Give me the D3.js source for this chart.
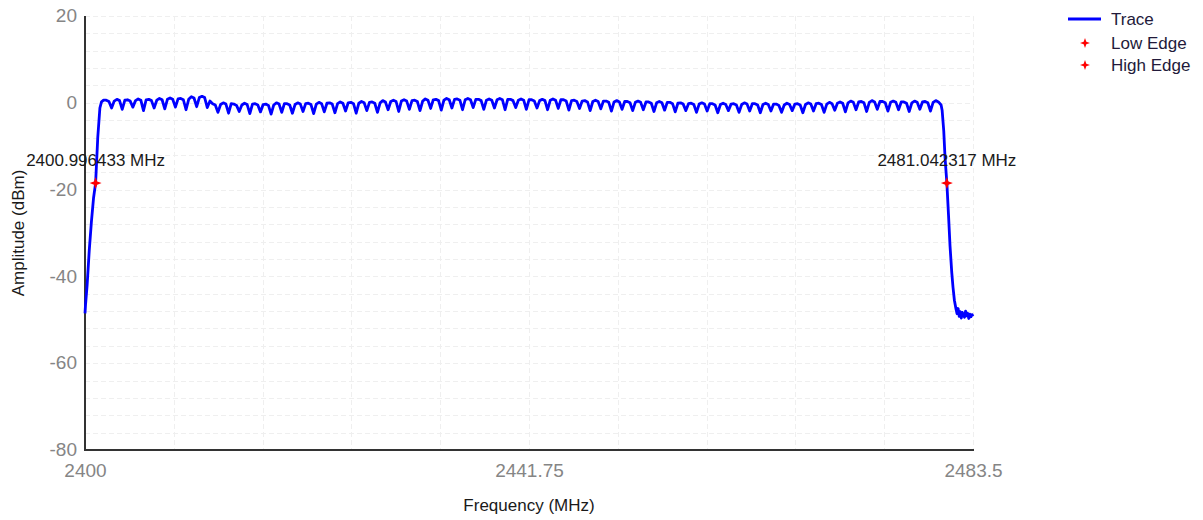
<!DOCTYPE html>
<html>
<head>
<meta charset="utf-8">
<script src="https://cdn.jsdelivr.net/npm/d3@7"></script>
<style>
  html, body { margin: 0; padding: 0; background: #ffffff; }
  svg { display: block; font-family: "Liberation Sans", Arial, sans-serif; }
</style>
</head>
<body>
<svg id="chart" width="1203" height="520"></svg>
<script>
// ---------------- DATA ----------------
const xDomain = [2400, 2483.5];
const yDomain = [-80, 20];
const xTickValues = [2400, 2441.75, 2483.5];
const yTickValues = [-80, -60, -40, -20, 0, 20];

// Rising edge (MHz, dBm)
const lowEdgeFreq = [2400.0, 2400.05, 2400.2, 2400.4, 2400.6, 2400.8, 2400.996433, 2401.2, 2401.4, 2401.55, 2401.75];
const lowEdgeAmp  = [-48.5, -46.5, -42.0, -34.0, -27.5, -22.0, -18.5, -8.0, -1.2, 0.2, 0.6];

// In-band plateau, sweep points every 0.25 MHz from 2402.00 to 2480.50
const plateauStart = 2402.0;
const plateauStep = 0.25;
const plateauAmp = [
  0.6, 0.3, -1.2, 0.4,   0.8, 0.5, -1.5, 0.6,   0.7, 0.4, -1.0, 0.5,   0.9, 0.6, -1.8, 0.7,   0.8, 0.5, -1.2, 0.6,
  1.0, 0.7, -1.4, 0.8,   1.1, 0.8, -1.0, 0.9,   1.0, 0.7, -1.6, 0.8,   1.4, 1.1, -0.9, 1.2,   1.5, 1.2, -1.1, 0.4,
  -0.2, -0.5, -2.2, -0.4,   0.0, -0.3, -2.4, -0.2,   -0.3, -0.6, -2.0, -0.5,   -0.1, -0.4, -2.5, -0.3,   -0.2, -0.5, -2.1, -0.4,
  -0.3, -0.6, -2.6, -0.5,   0.0, -0.3, -2.2, -0.2,   -0.2, -0.5, -2.4, -0.4,   0.0, -0.3, -2.0, -0.2,   -0.1, -0.4, -2.5, -0.3,
  0.1, -0.2, -2.1, -0.1,   0.0, -0.3, -2.3, -0.2,   0.2, -0.1, -1.9, 0.0,   0.1, -0.2, -2.4, -0.1,   0.3, 0.0, -1.8, 0.1,
  0.2, -0.1, -2.2, 0.0,   0.5, 0.2, -1.6, 0.3,   0.6, 0.3, -2.0, 0.4,   0.7, 0.4, -1.5, 0.5,   0.6, 0.3, -1.8, 0.4,
  0.9, 0.6, -1.3, 0.7,   0.8, 0.5, -1.7, 0.6,   1.0, 0.7, -1.2, 0.8,   0.9, 0.6, -1.6, 0.7,   1.0, 0.7, -1.1, 0.8,
  0.8, 0.5, -1.5, 0.6,   0.9, 0.6, -1.2, 0.7,   1.0, 0.7, -1.6, 0.8,   0.8, 0.5, -1.1, 0.6,   0.9, 0.6, -1.5, 0.7,
  0.7, 0.4, -1.2, 0.5,   0.8, 0.5, -1.6, 0.6,   0.9, 0.6, -1.3, 0.7,   0.7, 0.4, -1.7, 0.5,   0.6, 0.3, -1.3, 0.4,
  0.5, 0.2, -1.8, 0.3,   0.6, 0.3, -1.4, 0.4,   0.4, 0.1, -1.9, 0.2,   0.5, 0.2, -1.5, 0.3,   0.3, 0.0, -1.8, 0.1,
  0.4, 0.1, -1.6, 0.2,   0.2, -0.1, -2.0, 0.0,   0.3, 0.0, -1.7, 0.1,   0.1, -0.2, -2.1, -0.1,   0.0, -0.3, -1.8, -0.2,
  -0.1, -0.4, -2.2, -0.3,   0.0, -0.3, -1.9, -0.2,   -0.2, -0.5, -2.3, -0.4,   -0.1, -0.4, -1.8, -0.3,   -0.2, -0.5, -2.2, -0.4,
  0.0, -0.3, -1.9, -0.2,   -0.2, -0.5, -2.3, -0.4,   -0.1, -0.4, -1.9, -0.3,   -0.3, -0.6, -2.2, -0.5,   -0.1, -0.4, -1.8, -0.3,
  -0.2, -0.5, -2.3, -0.4,   0.0, -0.3, -1.9, -0.2,   -0.1, -0.4, -2.2, -0.3,   0.1, -0.2, -1.7, -0.1,   0.2, -0.1, -2.1, 0.0,
  0.4, 0.1, -1.6, 0.2,   0.3, 0.0, -2.0, 0.1,   0.5, 0.2, -1.5, 0.3,   0.3, 0.0, -1.9, 0.1,   0.4, 0.1, -1.6, 0.2,
  0.2, -0.1, -2.0, 0.0,   0.4, 0.1, -1.5, 0.2,   0.3, 0.0, -1.9, 0.1,   0.5, 0.2, -0.5
];

// Falling edge and out-of-band floor (MHz, dBm)
const highEdgeFreq = [2480.6, 2480.75, 2480.87, 2481.042317, 2481.2, 2481.34, 2481.5, 2481.62, 2481.75, 2481.9,
  2482.0, 2482.1, 2482.2, 2482.3, 2482.4, 2482.5, 2482.6, 2482.7, 2482.8, 2482.9, 2483.0, 2483.1, 2483.2, 2483.3, 2483.4, 2483.5];
const highEdgeAmp = [-1.8, -6.5, -12.6, -18.5, -26.0, -33.0, -39.0, -42.5, -45.5, -47.5,
  -48.6, -47.4, -49.2, -48.1, -49.6, -48.3, -48.9, -49.4, -48.0, -49.1, -48.5, -49.7, -48.7, -49.3, -48.8, -49.2];

// Edge markers
const edgeNames = ["Low Edge", "High Edge"];
const edgeFreqs = [2400.996433, 2481.042317];
const edgeAmps = [-18.5, -18.5];
const edgeLabels = ["2400.996433 MHz", "2481.042317 MHz"];

const legendItems = ["Trace", "Low Edge", "High Edge"];

// ---------------- BUILD ----------------
(function () {
const trace = [];
lowEdgeFreq.forEach((f, i) => trace.push([f, lowEdgeAmp[i]]));
plateauAmp.forEach((a, i) => trace.push([plateauStart + i * plateauStep, a]));
highEdgeFreq.forEach((f, i) => trace.push([f, highEdgeAmp[i]]));

const svg = d3.select("#chart");
const pLeft = 85, pRight = 973, pTop = 16, pBottom = 450;

const x = d3.scaleLinear().domain(xDomain).range([pLeft, pRight]);
const y = d3.scaleLinear().domain(yDomain).range([pBottom, pTop]);

// Grid
const grid = svg.append("g");
const vGrid = d3.range(0, 11).map(i => xDomain[0] + i * (xDomain[1] - xDomain[0]) / 10);
const hGrid = d3.range(yDomain[0], yDomain[1] + 0.001, 4);
grid.selectAll("line.v").data(vGrid).join("line")
  .attr("x1", d => Math.round(x(d)) + 0.5).attr("x2", d => Math.round(x(d)) + 0.5)
  .attr("y1", pTop).attr("y2", pBottom)
  .attr("stroke", "#efefef").attr("stroke-width", 1).attr("stroke-dasharray", "5,3");
grid.selectAll("line.h").data(hGrid).join("line")
  .attr("y1", d => Math.round(y(d)) + 0.5).attr("y2", d => Math.round(y(d)) + 0.5)
  .attr("x1", pLeft).attr("x2", pRight)
  .attr("stroke", "#efefef").attr("stroke-width", 1).attr("stroke-dasharray", "5,3");

// Axes
const yAxis = d3.axisLeft(y).tickValues(yTickValues).tickSize(0).tickPadding(8).tickFormat(d => String(d));
const xAxis = d3.axisBottom(x).tickValues(xTickValues).tickSize(0).tickPadding(14).tickFormat(d => String(d));

const gy = svg.append("g").attr("transform", `translate(${pLeft},0)`).call(yAxis);
gy.select(".domain").remove();
gy.selectAll("text").attr("fill", "#858585").style("font-size", "19px").attr("font-family", "Liberation Sans, Arial, sans-serif").attr("dy", "0.3em");

const gx = svg.append("g").attr("transform", `translate(0,${pBottom})`).call(xAxis);
gx.select(".domain").remove();
gx.selectAll("text").attr("fill", "#858585").style("font-size", "19px").attr("font-family", "Liberation Sans, Arial, sans-serif");

svg.append("line").attr("x1", pLeft).attr("x2", pLeft).attr("y1", pTop).attr("y2", pBottom + 1)
  .attr("stroke", "#333").attr("stroke-width", 2);
svg.append("line").attr("x1", pLeft).attr("x2", pRight + 1).attr("y1", pBottom).attr("y2", pBottom)
  .attr("stroke", "#333").attr("stroke-width", 2);

// Axis titles
svg.append("text").attr("x", (pLeft + pRight) / 2).attr("y", 511)
  .attr("text-anchor", "middle").attr("fill", "#1a1a1a").style("font-size", "17px")
  .text("Frequency (MHz)");
svg.append("text").attr("transform", `translate(24,${(pTop + pBottom) / 2}) rotate(-90)`)
  .attr("text-anchor", "middle").attr("fill", "#1a1a1a").style("font-size", "17px")
  .text("Amplitude (dBm)");

// Trace
const line = d3.line().x(d => x(d[0])).y(d => y(d[1]));
svg.append("path").datum(trace).attr("d", line)
  .attr("fill", "none").attr("stroke", "#0000ff").attr("stroke-width", 2.8).attr("stroke-linejoin", "round");

// Markers
const starPath = "M0,-6 L1.6,-1.6 L6,0 L1.6,1.6 L0,6 L-1.6,1.6 L-6,0 L-1.6,-1.6Z";
const edges = edgeFreqs.map((f, i) => ({ f, a: edgeAmps[i], label: edgeLabels[i] }));
svg.selectAll("path.edge").data(edges).join("path")
  .attr("class", "edge").attr("d", starPath)
  .attr("transform", d => `translate(${x(d.f)},${y(d.a)})`)
  .attr("fill", "#ff0000");
svg.selectAll("text.edgeLabel").data(edges).join("text")
  .attr("class", "edgeLabel")
  .attr("x", d => x(d.f)).attr("y", d => y(d.a) - 17)
  .attr("text-anchor", "middle").attr("fill", "#1a1a1a").style("font-size", "17px")
  .text(d => d.label);

// Legend
const lg = svg.append("g");
const legY = [19, 43, 65];
lg.append("line").attr("x1", 1068).attr("x2", 1101).attr("y1", legY[0]).attr("y2", legY[0])
  .attr("stroke", "#0000ff").attr("stroke-width", 3);
[1, 2].forEach(i => {
  lg.append("path").attr("d", "M0,-5 L1.3,-1.3 L5,0 L1.3,1.3 L0,5 L-1.3,1.3 L-5,0 L-1.3,-1.3Z")
    .attr("transform", `translate(1085,${legY[i]})`).attr("fill", "#ff0000");
});
lg.selectAll("text").data(legendItems).join("text")
  .attr("x", 1111).attr("y", (d, i) => legY[i]).attr("dy", "0.35em")
  .attr("fill", "#221a3a").style("font-size", "17px")
  .text(d => d);
})();
</script>
</body>
</html>
